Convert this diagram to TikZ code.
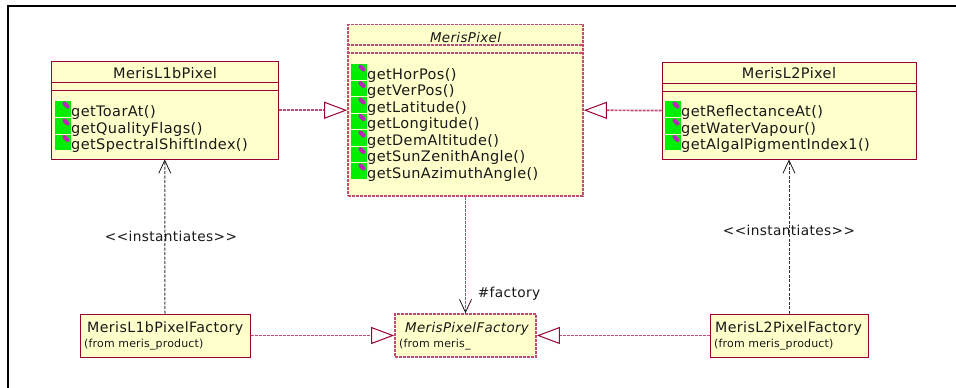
\documentclass[tikz,border=0pt]{standalone}
\usepackage{fontspec}
\setmainfont{DejaVu Sans}
\usetikzlibrary{arrows.meta}
\definecolor{roseline}{HTML}{990033}
\definecolor{rosedash}{HTML}{C24A74}
\definecolor{rosefill}{HTML}{FFFFCC}
\definecolor{icongreen}{HTML}{00EE00}
\definecolor{iconpill}{HTML}{C020C0}
\newcommand{\bigtxt}{\fontsize{14.5}{17}\selectfont\addfontfeature{LetterSpace=2.7}}
\newcommand{\facttxt}{\fontsize{14.2}{17}\selectfont\addfontfeature{LetterSpace=2.7}}
\newcommand{\italtxt}{\fontsize{13.4}{17}\selectfont\addfontfeature{LetterSpace=2.7}\itshape}
\newcommand{\labeltxt}{\fontsize{13.7}{17}\selectfont\addfontfeature{LetterSpace=2.7}}
\newcommand{\smalltxt}{\fontsize{11}{13}\selectfont\addfontfeature{LetterSpace=1.5}}
\newcommand{\umlmethod}[4]{%
  \fill[icongreen] (#2,#3) rectangle (#2+16,#3+15.5);
  \draw[iconpill,line width=4pt,line cap=round] (#2+9.5,#3+2.5) -- (#2+12.5,#3+5.5);
  \node[methodtext] (#1) at (#2+16,#3+15) {#4};
}
\tikzset{
  x=1pt,y=-1pt,
  umlbox/.style={draw=roseline,fill=rosefill,line width=1pt,rectangle,inner sep=0pt},
  abstractbox/.style={draw=rosedash,fill=rosefill,line width=1.7pt,rectangle,inner sep=0pt,dash pattern=on 3pt off 1pt},
  divider/.style={draw=roseline,line width=.9pt},
  abstractdivider/.style={draw=rosedash,line width=1.4pt,dash pattern=on 3pt off 1pt},
  methodtext/.style={anchor=base west,inner sep=0pt,font=\bigtxt,text=black!90},
  titletext/.style={anchor=base,inner sep=0pt,font=\bigtxt,text=black!90},
  facttext/.style={anchor=base west,inner sep=0pt,font=\facttxt,text=black!90},
  italtext/.style={inner sep=0pt,font=\italtxt,text=black!90},
  fromtext/.style={anchor=base west,inner sep=0pt,font=\smalltxt,text=black!90},
  labeltext/.style={anchor=base,inner sep=0pt,font=\labeltxt,text=black!90},
  realize/.style={draw=rosedash,line width=1.7pt,dash pattern=on 3pt off 1pt,
    -{Triangle[open,length=23pt,width=17pt,line width=1pt,color=roseline,fill=white]}},
  instantiate/.style={draw=black!80,line width=1pt,dash pattern=on 3pt off 1.5pt,
    -{Straight Barb[black,length=13pt,width=12pt,line width=.7pt]}},
  assoc/.style={draw=rosedash,line width=1.7pt,dash pattern=on 3pt off 1pt,
    -{Straight Barb[black,length=13pt,width=12pt,line width=.7pt]}},
  frameline/.style={draw=black,line width=2pt},
}
\begin{document}
\begin{tikzpicture}
\useasboundingbox (0,0) rectangle (956,388);
\fill[white] (0,0) rectangle (956,388);
\draw[frameline] (8,388) -- (8,6) -- (956,6);

% class boxes
\node[umlbox,minimum width=226.5pt,minimum height=97.5pt] (l1) at (164.75,110.25) {};
\node[abstractbox,minimum width=235pt,minimum height=171.5pt] (mp) at (465.5,110.25) {};
\node[umlbox,minimum width=254pt,minimum height=97pt] (l2) at (789,110.5) {};
\node[umlbox,minimum width=170pt,minimum height=43pt] (f1) at (165,335.5) {};
\node[abstractbox,minimum width=141pt,minimum height=43pt] (fp) at (465.5,335.5) {};
\node[umlbox,minimum width=158pt,minimum height=43pt] (f2) at (789,335.5) {};

% compartments
\foreach \n/\s in {l1/divider,l2/divider,mp/abstractdivider}{
  \draw[\s] ([yshift=-21.5pt]\n.north west) -- ([yshift=-21.5pt]\n.north east);
  \draw[\s] ([yshift=-29.5pt]\n.north west) -- ([yshift=-29.5pt]\n.north east);
}

% titles
\node[titletext] (tl1) at (165,78.7) {MerisL1bPixel};
\node[italtext,anchor=base] (tmp) at (465.5,42) {MerisPixel};
\node[titletext] (tl2) at (789,78.7) {MerisL2Pixel};

% methods
\umlmethod{a1}{55}{101}{getToarAt()}
\umlmethod{a2}{55}{118}{getQualityFlags()}
\umlmethod{a3}{55}{134.5}{getSpectralShiftIndex()}

\umlmethod{b1}{351}{64}{getHorPos()}
\umlmethod{b2}{351}{80.5}{getVerPos()}
\umlmethod{b3}{351}{97}{getLatitude()}
\umlmethod{b4}{351}{113.5}{getLongitude()}
\umlmethod{b5}{351}{130}{getDemAltitude()}
\umlmethod{b6}{351}{146.5}{getSunZenithAngle()}
\umlmethod{b7}{351}{163}{getSunAzimuthAngle()}

\umlmethod{c1}{665}{101}{getReflectanceAt()}
\umlmethod{c2}{665}{118}{getWaterVapour()}
\umlmethod{c3}{665}{134.5}{getAlgalPigmentIndex1()}

% factory texts
\node[facttext] (tf1) at (87,332) {MerisL1bPixelFactory};
\node[fromtext] (ff1) at (84,347) {(from meris\_product)};
\node[italtext,anchor=base west] (tfp) at (405,332) {MerisPixelFactory};
\node[fromtext] (ffp) at (399,347) {(from meris\_};
\node[facttext] (tf2) at (715,332) {MerisL2PixelFactory};
\node[fromtext] (ff2) at (714,347) {(from meris\_product)};

% connectors
\draw[realize] (l1.east) -- (mp.west);
\draw[realize] (l2.west) -- (mp.east);
\draw[realize] (f1.east) -- (fp.west);
\draw[realize] (f2.west) -- (fp.east);
\draw[assoc] (mp.south) -- (fp.north);
\draw[instantiate] (f1.north) -- (l1.south);
\draw[instantiate] (f2.north) -- (l2.south);

% labels
\node[labeltext] (i1) at (171,241) {<{}<instantiates>{}>};
\node[labeltext] (i2) at (789,235) {<{}<instantiates>{}>};
\node[labeltext] (fa) at (509,297) {\#factory};
\end{tikzpicture}
\end{document}
